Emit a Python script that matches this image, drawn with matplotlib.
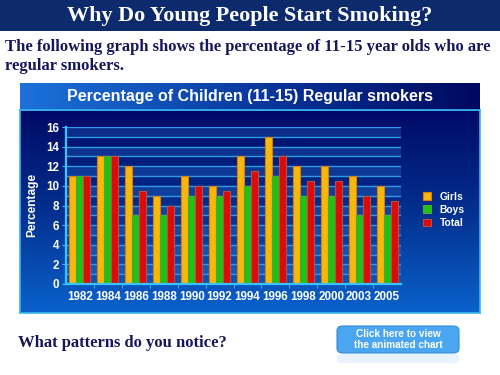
import numpy as np
import matplotlib
matplotlib.use("Agg")
import matplotlib.pyplot as plt
from matplotlib.patches import Rectangle, FancyBboxPatch
from matplotlib.colors import LinearSegmentedColormap

# Data
years = ['1982', '1984', '1986', '1988', '1990', '1992', '1994',
         '1996', '1998', '2000', '2003', '2005']
girls = [11, 13, 12, 9, 11, 10, 13, 15, 12, 12, 11, 10]
boys = [11, 13, 7, 7, 9, 9, 10, 11, 9, 9, 7, 7]
total = [11, 13, 9.5, 8, 10, 9.5, 11.5, 13, 10.5, 10.5, 9, 8.5]

serif = ['Liberation Serif', 'DejaVu Serif']
sans = ['Liberation Sans', 'DejaVu Sans']
navy_text = '#16165a'

fig = plt.figure(figsize=(5, 3.75), dpi=100)
fig.patch.set_facecolor('white')

# slide title bar
fig.patches.append(Rectangle((0, 1 - 31 / 375), 1, 31 / 375, transform=fig.transFigure,
                             facecolor='#0c2a6c', edgecolor='none', zorder=0))
fig.text(0.5, 1 - 16 / 375, 'Why Do Young People Start Smoking?', ha='center', va='center',
         color='white', fontsize=15.9, fontweight='bold', family=serif)

fig.text(0.01, 1 - 47 / 375, 'The following graph shows the percentage of 11-15 year olds who are',
         ha='left', va='center', color=navy_text, fontsize=12, fontweight='bold', family=serif)
fig.text(0.01, 1 - 66 / 375, 'regular smokers.',
         ha='left', va='center', color=navy_text, fontsize=12, fontweight='bold', family=serif)

# chart panel background
px0, px1 = 20 / 500, 480 / 500
py0, py1 = 1 - 313 / 375, 1 - 110 / 375
bg = fig.add_axes([px0, py0, px1 - px0, py1 - py0])
body = LinearSegmentedColormap.from_list('body', ['#0a62cc', '#04308f', '#000a66'])
bg.imshow(np.linspace(0, 1, 256).reshape(-1, 1)[::-1], aspect='auto', cmap=body,
          extent=[0, 1, 0, 1], origin='upper')
bg.set_xticks([])
bg.set_yticks([])
for s in bg.spines.values():
    s.set_color('#3ab4f2')
    s.set_linewidth(1.2)

# chart title bar
ty0, ty1 = 1 - 110 / 375, 1 - 83 / 375
tb = fig.add_axes([px0, ty0, px1 - px0, ty1 - ty0])
head = LinearSegmentedColormap.from_list('head', ['#1c72da', '#0a3aa0', '#00085e'])
tb.imshow(np.linspace(0, 1, 256).reshape(1, -1), aspect='auto', cmap=head, extent=[0, 1, 0, 1])
tb.set_xticks([])
tb.set_yticks([])
for s in tb.spines.values():
    s.set_visible(False)
tb.text(0.5, 0.5, 'Percentage of Children (11-15) Regular smokers', ha='center', va='center',
        color='white', fontsize=11.5, fontweight='bold', family=sans, transform=tb.transAxes)
fig.lines.append(plt.Line2D([px0, px1], [ty0, ty0], transform=fig.transFigure,
                            color='#3ab4f2', lw=1.2))

# main plot
ax = fig.add_axes([66 / 500, 1 - 284 / 375, 335 / 500, 157 / 375])
ax.patch.set_alpha(0)
x = np.arange(len(years))
w = 0.25
ax.set_xlim(-0.5, len(years) - 0.5)
ax.set_ylim(0, 16)

for k in range(16):
    if k % 2 == 1:
        ax.axhspan(k, k + 1, color='#3a8ee8', alpha=0.22, lw=0, zorder=0)
for k in range(1, 17):
    ax.axhline(k, color='#2f9be6', lw=1.0, zorder=1)

ax.bar(x - w, girls, w, color='#f6b80a', edgecolor='#e07a10', lw=0.8, zorder=3, label='Girls')
ax.bar(x, boys, w, color='#20c214', edgecolor='#4ea83a', lw=0.8, zorder=3, label='Boys')
ax.bar(x + w, total, w, color='#de0a0a', edgecolor='#b85040', lw=0.8, zorder=3, label='Total')

ax.set_yticks(range(0, 17, 2))
ax.set_xticks(x)
ax.set_xticklabels(years)
ax.set_xticks(np.arange(0.5, len(years) - 0.5, 1), minor=True)
ax.tick_params(axis='x', which='major', length=0, pad=5)
ax.tick_params(axis='x', which='minor', length=3, color='#3ac4ff', direction='out')
ax.tick_params(axis='y', length=3, color='#3ac4ff', direction='out', pad=2)
for lab in ax.get_xticklabels() + ax.get_yticklabels():
    lab.set_color('white')
    lab.set_fontweight('bold')
    lab.set_fontsize(8.4)
    lab.set_family(sans)
for side in ['top', 'right']:
    ax.spines[side].set_visible(False)
for side in ['left', 'bottom']:
    ax.spines[side].set_color('#3ac4ff')
    ax.spines[side].set_linewidth(1.6)
    ax.spines[side].set_zorder(4)

fig.text(32 / 500, 1 - 205 / 375, 'Percentage', rotation=90, ha='center', va='center',
         color='white', fontsize=8.6, fontweight='bold', family=sans)

leg = ax.legend(loc='center left', bbox_to_anchor=(414 / 500, 1 - 210 / 375),
                bbox_transform=fig.transFigure, frameon=False, handlelength=0.8,
                handleheight=0.8, handletextpad=0.8, labelspacing=0.3,
                prop={'family': sans, 'weight': 'bold', 'size': 7.4})
for t in leg.get_texts():
    t.set_color('white')

# bottom text and button
fig.text(18 / 500, 1 - 343 / 375, 'What patterns do you notice?', ha='left', va='center',
         color=navy_text, fontsize=12, fontweight='bold', family=serif)

bx0, by0, bw, bh = 337 / 500, 1 - 353 / 375, 122 / 500, 27 / 375
btn = FancyBboxPatch((bx0, by0), bw, bh, boxstyle='round,pad=0,rounding_size=0.012',
                     transform=fig.transFigure, facecolor='#4aa6f0', edgecolor='#3a8ad8',
                     lw=0.8, zorder=2)
fig.patches.append(btn)
refl = FancyBboxPatch((bx0, by0 - 10 / 375), bw, 9 / 375, boxstyle='round,pad=0,rounding_size=0.01',
                      transform=fig.transFigure, facecolor='#cfe6fb', edgecolor='none',
                      alpha=0.45, zorder=1)
fig.patches.append(refl)
fig.text(bx0 + bw / 2, by0 + bh / 2, 'Click here to view\nthe animated chart', ha='center',
         va='center', color='white', fontsize=7.2, fontweight='bold', family=sans,
         linespacing=1.05, zorder=3)

fig.savefig('out.png', dpi=100)
